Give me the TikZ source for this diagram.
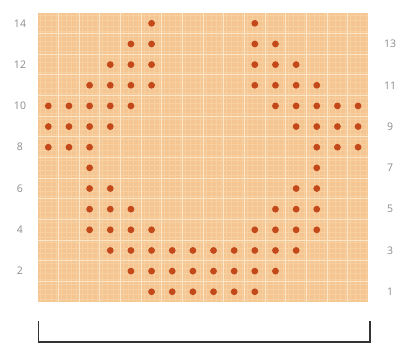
\documentclass[tikz,border=0pt]{standalone}
\usepackage{fontspec}
\setmainfont{Open Sans}
\definecolor{cellfill}{RGB}{245,198,146}
\definecolor{gridline}{RGB}{252,230,200}
\definecolor{subline}{RGB}{247,208,162}
\definecolor{dotcol}{RGB}{195,72,26}
\definecolor{labcol}{RGB}{140,140,140}
\begin{document}
\begin{tikzpicture}[x=1pt,y=-1pt,
  stitch/.style={circle,fill=dotcol,inner sep=0pt,minimum size=6.8pt},
  rowlab/.style={text=labcol,font=\fontsize{10.5}{10.5}\selectfont,inner sep=0pt},
  bracketline/.style={draw=black!80,line width=1.6pt}]
\useasboundingbox (0,0) rectangle (404,344);
\def\cw{20.65}
\def\gx{38}
\def\gy{13}
% background
\fill[cellfill] (\gx,\gy) rectangle ({\gx+16*\cw},{\gy+14*\cw});
% sub lines
\foreach \i in {0,...,63} {
  \draw[subline,line width=0.5pt] ({\gx+(\i+0.5)*\cw/4},\gy) -- ({\gx+(\i+0.5)*\cw/4},{\gy+14*\cw});
}
\foreach \j in {0,...,55} {
  \draw[subline,line width=0.5pt] (\gx,{\gy+(\j+0.5)*\cw/4}) -- ({\gx+16*\cw},{\gy+(\j+0.5)*\cw/4});
}
% main grid lines
\foreach \i in {1,...,15} {
  \draw[gridline,line width=1pt] ({\gx+\i*\cw},\gy) -- ({\gx+\i*\cw},{\gy+14*\cw});
}
\foreach \j in {1,...,13} {
  \draw[gridline,line width=1pt] (\gx,{\gy+\j*\cw}) -- ({\gx+16*\cw},{\gy+\j*\cw});
}
% stitches: row/column list (row 1 at bottom)
\foreach \r/\cols in {
  14/{6,11},
  13/{5,6,11,12},
  12/{4,5,6,11,12,13},
  11/{3,4,5,6,11,12,13,14},
  10/{1,2,3,4,5,12,13,14,15,16},
  9/{1,2,3,4,13,14,15,16},
  8/{1,2,3,14,15,16},
  7/{3,14},
  6/{3,4,13,14},
  5/{3,4,5,12,13,14},
  4/{3,4,5,6,11,12,13,14},
  3/{4,5,6,7,8,9,10,11,12,13},
  2/{5,6,7,8,9,10,11,12},
  1/{6,7,8,9,10,11}} {
  \foreach \c in \cols {
    \node[stitch] (s-\r-\c) at ({\gx+(\c-0.5)*\cw},{\gy+(14.5-\r)*\cw}) {};
  }
}
% row labels
\foreach \r in {14,12,10,8,6,4,2} {
  \node[rowlab] (l\r) at (20,{\gy+(14.5-\r)*\cw}) {\r};
}
\foreach \r in {13,11,9,7,5,3,1} {
  \node[rowlab] (l\r) at (390,{\gy+(14.5-\r)*\cw}) {\r};
}
% bracket
\coordinate (b1) at (38.5,321);
\coordinate (b2) at (38.5,342);
\coordinate (b3) at (370,342);
\coordinate (b4) at (370,321);
\draw[bracketline] (b1) -- (b2) -- (b3) -- (b4);
\end{tikzpicture}
\end{document}
